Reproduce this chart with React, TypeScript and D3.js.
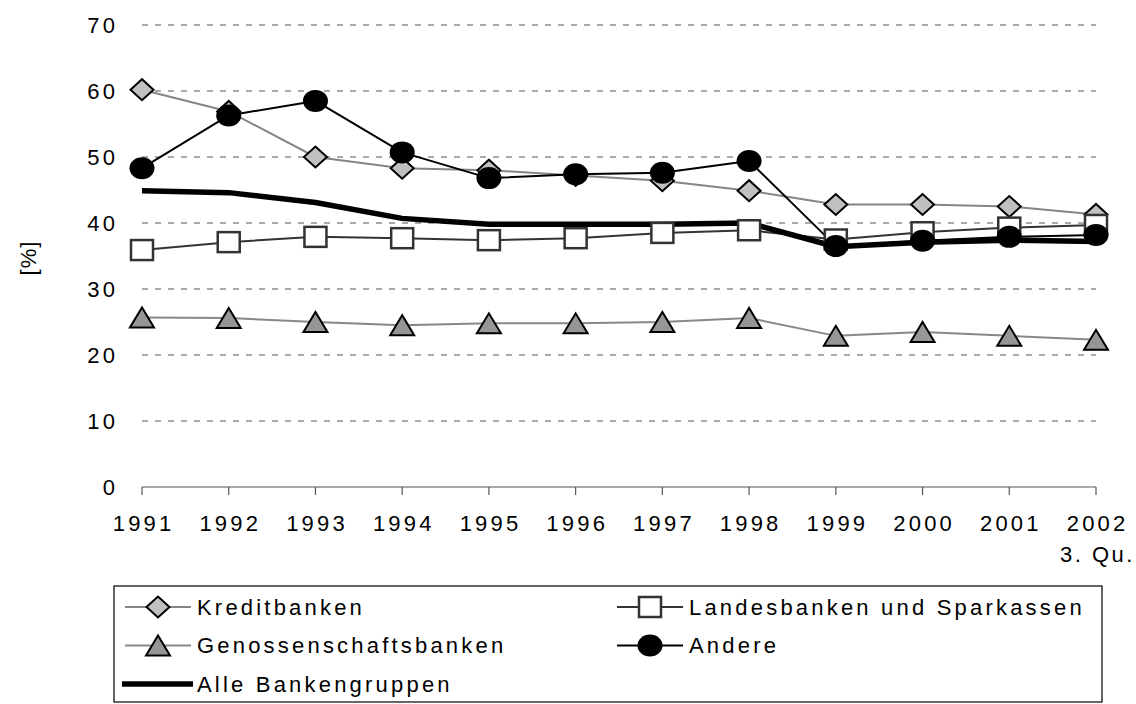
import React from "react";
import * as d3 from "d3";

const years = ["1991","1992","1993","1994","1995","1996","1997","1998","1999","2000","2001","2002"];
const yTicks = [0, 10, 20, 30, 40, 50, 60, 70];
const kreditbanken = [60.2, 56.9, 50.0, 48.3, 48.0, 47.2, 46.4, 44.9, 42.8, 42.8, 42.5, 41.3];
const landesbanken = [35.9, 37.1, 37.9, 37.7, 37.4, 37.7, 38.5, 38.9, 37.5, 38.6, 39.3, 39.7];
const genossenschaft = [25.7, 25.6, 25.0, 24.5, 24.8, 24.8, 25.0, 25.6, 22.9, 23.5, 22.9, 22.3];
const andere = [48.3, 56.3, 58.5, 50.7, 46.8, 47.4, 47.6, 49.4, 36.5, 37.3, 37.9, 38.2];
const alle = [44.9, 44.6, 43.1, 40.7, 39.8, 39.8, 39.8, 40.0, 36.4, 37.1, 37.4, 37.2];

const FONT = "'Liberation Sans', Arial, sans-serif";
const FS = 22;
const LS = 3.2;

type Marker = "diamond" | "square" | "triangle" | "circle" | "none";

function MarkerShape({ kind, cx, cy }: { kind: Marker; cx: number; cy: number }) {
  if (kind === "diamond") {
    const w = 11.5, h = 10.5;
    return <path d={`M${cx - w},${cy}L${cx},${cy - h}L${cx + w},${cy}L${cx},${cy + h}Z`} fill="#c0c0c0" stroke="#000" strokeWidth={2} />;
  }
  if (kind === "square") {
    return <rect x={cx - 11} y={cy - 10} width={22} height={20} fill="#fff" stroke="#333" strokeWidth={2.5} />;
  }
  if (kind === "triangle") {
    return <path d={`M${cx - 12},${cy + 10}L${cx},${cy - 10}L${cx + 12},${cy + 10}Z`} fill="#969696" stroke="#000" strokeWidth={2} />;
  }
  if (kind === "circle") {
    return <ellipse cx={cx} cy={cy} rx={12.5} ry={11} fill="#000" />;
  }
  return null;
}

const series: { name: string; values: number[]; color: string; width: number; marker: Marker }[] = [
  { name: "Kreditbanken", values: kreditbanken, color: "#858585", width: 2, marker: "diamond" },
  { name: "Landesbanken und Sparkassen", values: landesbanken, color: "#333", width: 2, marker: "square" },
  { name: "Genossenschaftsbanken", values: genossenschaft, color: "#888", width: 2, marker: "triangle" },
  { name: "Andere", values: andere, color: "#000", width: 2, marker: "circle" },
  { name: "Alle Bankengruppen", values: alle, color: "#000", width: 5.5, marker: "none" },
];

export default function App() {
  const W = 1136, H = 704;
  const x = d3.scalePoint<string>().domain(years).range([142, 1096]);
  const y = d3.scaleLinear().domain([0, 70]).range([487, 25]);
  const line = d3.line<number>().x((_, i) => x(years[i]) as number).y((d) => y(d));

  const legendItems = [
    { s: series[0], lx: 125, ly: 607 },
    { s: series[1], lx: 617, ly: 607 },
    { s: series[2], lx: 125, ly: 645.5 },
    { s: series[3], lx: 617, ly: 645.5 },
    { s: series[4], lx: 122, ly: 684 },
  ];

  return (
    <svg width={W} height={H} style={{ position: "absolute", left: 0, top: 0 }} fontFamily={FONT}>
      <rect x={0} y={0} width={W} height={H} fill="#fff" />
      {yTicks.filter((t) => t > 0).map((t) => (
        <line key={t} x1={142} x2={1096} y1={y(t)} y2={y(t)} stroke="#555" strokeWidth={1} strokeDasharray="6,7" />
      ))}
      {yTicks.map((t) => (
        <text key={t} x={115 + LS} y={y(t)} dy="0.36em" textAnchor="end" fontSize={FS} letterSpacing={LS} fill="#000">{t}</text>
      ))}
      <text transform="translate(36,258) rotate(-90)" textAnchor="middle" fontSize={FS} letterSpacing={1} fill="#000">[%]</text>
      <line x1={142} x2={1096} y1={y(0)} y2={y(0)} stroke="#555" strokeWidth={1.2} />
      {years.map((yr) => (
        <line key={yr} x1={x(yr)} x2={x(yr)} y1={y(0)} y2={y(0) + 8} stroke="#555" strokeWidth={1.2} />
      ))}
      {years.map((yr) => (
        <text key={yr} x={(x(yr) as number) + LS / 2} y={531} textAnchor="middle" fontSize={FS} letterSpacing={LS} fill="#000">{yr}</text>
      ))}
      <text x={(x("2002") as number) + 1.5} y={562} textAnchor="middle" fontSize={FS} letterSpacing={2.5} fill="#000">3. Qu.</text>
      {series.map((s) => (
        <path key={s.name} d={line(s.values) || ""} fill="none" stroke={s.color} strokeWidth={s.width} strokeLinejoin="round" />
      ))}
      {series.map((s) => (
        <g key={s.name + "m"}>
          {s.values.map((v, i) => (
            <MarkerShape key={i} kind={s.marker} cx={x(years[i]) as number} cy={y(v)} />
          ))}
        </g>
      ))}
      <rect x={114} y={586} width={988} height={116} fill="none" stroke="#000" strokeWidth={1.2} />
      {legendItems.map(({ s, lx, ly }) => (
        <g key={s.name}>
          {s.marker === "none" ? (
            <line x1={lx} x2={lx + 71} y1={ly} y2={ly} stroke={s.color} strokeWidth={5.5} />
          ) : (
            <line x1={lx} x2={lx + 66} y1={ly} y2={ly} stroke={s.color} strokeWidth={2} />
          )}
          {s.marker !== "none" && <MarkerShape kind={s.marker} cx={lx + 33} cy={ly} />}
          <text x={s.marker === "none" ? lx + 75 : lx + 72} y={ly} dy="0.36em" fontSize={FS} letterSpacing={LS} fill="#000">{s.name}</text>
        </g>
      ))}
    </svg>
  );
}
